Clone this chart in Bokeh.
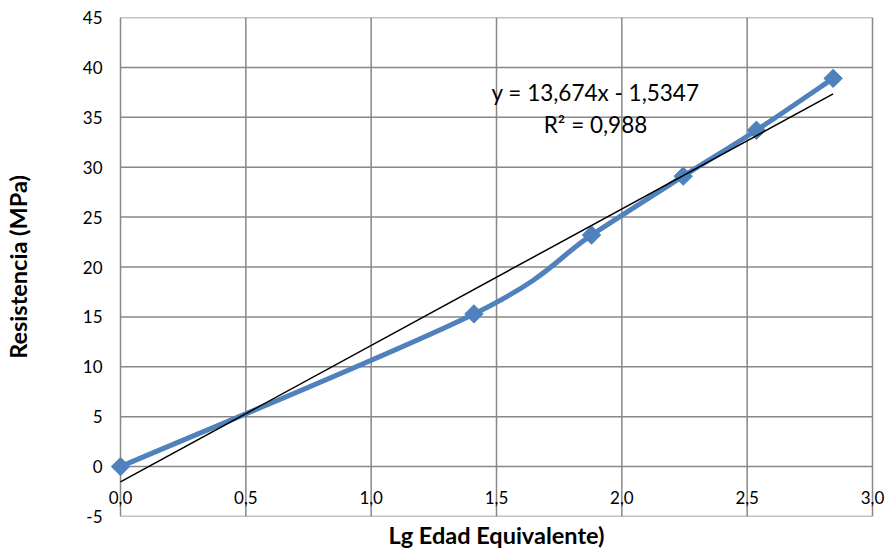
import numpy as np
from bokeh.plotting import figure
from bokeh.models import Range1d, Label, Title, ColumnDataSource
from bokeh.embed import file_html
from bokeh.resources import INLINE

# ---- data ----
lg_edad = [0.0, 1.41, 1.879, 2.245, 2.537, 2.843]
resistencia = [0.0, 15.3, 23.2, 29.1, 33.7, 38.9]
trend_slope = 13.674
trend_intercept = -1.5347
eq_text = "y = 13,674x - 1,5347"
r2_text = "R² = 0,988"
x_ticks = [0.0, 0.5, 1.0, 1.5, 2.0, 2.5, 3.0]
x_tick_labels = ["0,0", "0,5", "1,0", "1,5", "2,0", "2,5", "3,0"]
y_ticks = [-5, 0, 5, 10, 15, 20, 25, 30, 35, 40, 45]
y_tick_labels = ["-5", "0", "5", "10", "15", "20", "25", "30", "35", "40", "45"]
x_title = "Lg Edad Equivalente)"
y_title = "Resistencia (MPa)"

BLUE = "#4F81BD"
GRID = "#888888"
FONT = "Lato"

# plot area spans x 0..3; the frame is a bit wider so edge tick labels are not clipped
x_lo, x_hi = x_ticks[0], x_ticks[-1]
y_lo, y_hi = y_ticks[0], y_ticks[-1]
px_per_unit = 752 / (x_hi - x_lo)
pad_left, pad_right = 18, 18

p = figure(width=890, height=554,
           x_range=Range1d(x_lo - pad_left / px_per_unit, x_hi + pad_right / px_per_unit),
           y_range=Range1d(y_lo, y_hi),
           x_axis_location=None,
           output_backend="svg", toolbar_location=None,
           min_border_left=102, min_border_right=0, min_border_top=17, min_border_bottom=38)
p.background_fill_color = "white"
p.border_fill_color = "white"
p.outline_line_color = None
p.grid.visible = False

# gridlines / box of the plot area
p.segment(x0=x_ticks, x1=x_ticks, y0=[y_lo] * len(x_ticks), y1=[y_hi] * len(x_ticks),
          line_color=GRID, line_width=1.5)
p.segment(x0=[x_lo] * len(y_ticks), x1=[x_hi] * len(y_ticks), y0=y_ticks, y1=y_ticks,
          line_color=GRID, line_width=1.5)

# y axis (labels + title only)
ya = p.yaxis[0]
ya.ticker = y_ticks
ya.axis_line_color = None
ya.major_tick_line_color = None
ya.minor_tick_line_color = None
ya.major_tick_out = 0
ya.major_label_standoff = 0
ya.major_label_overrides = {t: l for t, l in zip(y_ticks, y_tick_labels)}
ya.major_label_text_font = FONT
ya.major_label_text_font_size = "17px"
ya.major_label_text_color = "black"
ya.axis_label = y_title
ya.axis_label_text_font = FONT
ya.axis_label_text_font_style = "bold"
ya.axis_label_text_font_size = "23.5px"
ya.axis_label_text_color = "black"
ya.axis_label_standoff = 48

# x tick labels drawn just below the y = 0 line
for t, lab in zip(x_ticks, x_tick_labels):
    p.add_layout(Label(x=t, y=0, text=lab, text_align="center", text_baseline="alphabetic",
                       y_offset=-31, text_font=FONT, text_font_size="17px", text_color="black"))

p.add_layout(Title(text=x_title, align="center", text_font=FONT, text_font_size="23.5px",
                   text_font_style="bold", text_color="black", standoff=5, offset=0), "below")

# smoothed series (Catmull-Rom style bezier segments)
P = np.column_stack([lg_edad, resistencia])
n = len(P)
segs = dict(x0=[], y0=[], x1=[], y1=[], cx0=[], cy0=[], cx1=[], cy1=[])
for i in range(n - 1):
    pm = P[i - 1] if i > 0 else P[i]
    pn = P[i + 2] if i + 2 < n else P[i + 1]
    c1 = P[i] + (P[i + 1] - pm) / 6.0
    c2 = P[i + 1] - (pn - P[i]) / 6.0
    segs["x0"].append(P[i][0]); segs["y0"].append(P[i][1])
    segs["x1"].append(P[i + 1][0]); segs["y1"].append(P[i + 1][1])
    segs["cx0"].append(c1[0]); segs["cy0"].append(c1[1])
    segs["cx1"].append(c2[0]); segs["cy1"].append(c2[1])
p.bezier(x0="x0", y0="y0", x1="x1", y1="y1", cx0="cx0", cy0="cy0", cx1="cx1", cy1="cy1",
         source=ColumnDataSource(segs), line_color=BLUE, line_width=5, line_cap="round")
p.scatter(lg_edad, resistencia, marker="square", angle=np.pi / 4, size=13,
          fill_color=BLUE, line_color=BLUE)

# linear trendline
tx = [min(lg_edad), max(lg_edad)]
ty = [trend_slope * v + trend_intercept for v in tx]
p.line(tx, ty, line_color="black", line_width=1.5)

p.add_layout(Label(x=1.895, y=37.5, text=eq_text, text_align="center", text_baseline="middle",
                   text_font=FONT, text_font_size="22.5px", text_color="black"))
p.add_layout(Label(x=1.895, y=34.3, text=r2_text, text_align="center", text_baseline="middle",
                   text_font=FONT, text_font_size="22.5px", text_color="black"))

open("out.html", "w").write(file_html(p, INLINE))
